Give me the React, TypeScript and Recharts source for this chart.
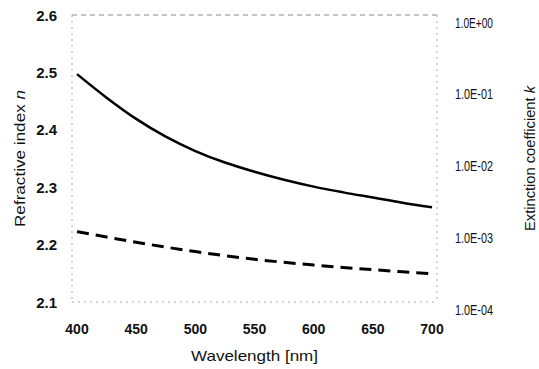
import { LineChart, Line, XAxis, YAxis, ReferenceLine, Label } from "recharts";

// wavelength [nm]
const wavelengths = [400, 425, 450, 475, 500, 525, 550, 575, 600, 625, 650, 675, 700];
// refractive index n (left axis)
const refractiveIndex = [2.497, 2.456, 2.419, 2.388, 2.363, 2.343, 2.327, 2.313, 2.301, 2.291, 2.282, 2.273, 2.265];
// extinction coefficient k (right axis, log)
const extinction = [9.55e-4, 8.04e-4, 6.81e-4, 5.82e-4, 5.04e-4, 4.43e-4, 3.94e-4, 3.57e-4, 3.27e-4, 3.03e-4, 2.82e-4, 2.64e-4, 2.48e-4];

const xTicks = [400, 450, 500, 550, 600, 650, 700];
const nTicks = [2.1, 2.2, 2.3, 2.4, 2.5, 2.6];
const kTicks = [1e-4, 1e-3, 1e-2, 1e-1, 1];

const data = wavelengths.map((wl, i) => ({ wl, n: refractiveIndex[i], k: extinction[i] }));

const FONT = "'Liberation Sans', Arial, sans-serif";
const frame = { stroke: "#a8a8a8", strokeDasharray: "2 4", strokeWidth: 1 };

function expLabel(v: number) {
  const e = Math.round(Math.log10(v));
  const sign = e < 0 ? "-" : "+";
  return `1.0E${sign}${String(Math.abs(e)).padStart(2, "0")}`;
}

const XTick = ({ x, y, payload }: any) => (
  <text x={x} y={y + 32} textAnchor="middle" fontSize={14} fontWeight="bold" fontFamily={FONT} fill="#111">
    {payload.value}
  </text>
);

const NTick = ({ x, y, payload }: any) => (
  <text x={x - 15} y={y + 5.5} textAnchor="end" fontSize={15} fontWeight="bold" fontFamily={FONT} fill="#111">
    {Number(payload.value).toFixed(1)}
  </text>
);

const KTick = ({ x, y, payload }: any) => (
  <text
    x={x + 18}
    y={y + 12.5}
    textAnchor="start"
    fontSize={15}
    fontFamily={FONT}
    fill="#111"
    textLength={38}
    lengthAdjust="spacingAndGlyphs"
  >
    {expLabel(payload.value)}
  </text>
);

const XTitle = ({ viewBox }: any) => (
  <text
    x={viewBox.x + viewBox.width / 2}
    y={viewBox.y + 59}
    textAnchor="middle"
    fontSize={15}
    fontFamily={FONT}
    fill="#111"
    textLength={127}
    lengthAdjust="spacingAndGlyphs"
  >
    Wavelength [nm]
  </text>
);

const NTitle = ({ viewBox }: any) => (
  <text
    transform={`translate(25, ${viewBox.y + viewBox.height / 2}) rotate(-90)`}
    textAnchor="middle"
    fontSize={15.5}
    fontFamily={FONT}
    fill="#111"
    textLength={137}
    lengthAdjust="spacingAndGlyphs"
  >
    Refractive index <tspan fontStyle="italic">n</tspan>
  </text>
);

const KTitle = ({ viewBox }: any) => (
  <text
    transform={`translate(${viewBox.x + 98}, ${viewBox.y + viewBox.height / 2}) rotate(-90)`}
    textAnchor="middle"
    fontSize={15.5}
    fontFamily={FONT}
    fill="#111"
    textLength={145}
    lengthAdjust="spacingAndGlyphs"
  >
    Extinction coefficient <tspan fontStyle="italic">k</tspan>
  </text>
);

export default function App() {
  return (
    <div style={{ position: "absolute", left: 0, top: 0, width: 539, height: 369, background: "#fff" }}>
      <LineChart width={539} height={369} data={data} margin={{ top: 15, right: 0, bottom: 0, left: 0 }}>
        <XAxis
          dataKey="wl"
          type="number"
          domain={[400, 700]}
          ticks={xTicks}
          interval={0}
          padding={{ left: 5, right: 5 }}
          height={67}
          tickSize={0}
          tickMargin={0}
          tickLine={false}
          axisLine={frame}
          tick={<XTick />}
        >
          <Label content={XTitle} />
        </XAxis>
        <YAxis
          yAxisId="n"
          orientation="left"
          width={72}
          type="number"
          domain={[2.1, 2.6]}
          ticks={nTicks}
          interval={0}
          tickSize={0}
          tickMargin={0}
          tickLine={false}
          axisLine={frame}
          tick={<NTick />}
        >
          <Label content={NTitle} />
        </YAxis>
        <YAxis
          yAxisId="k"
          orientation="right"
          width={102}
          type="number"
          scale="log"
          domain={[1e-4, 1]}
          allowDataOverflow
          ticks={kTicks}
          interval={0}
          tickSize={0}
          tickMargin={0}
          tickLine={false}
          axisLine={frame}
          tick={<KTick />}
        >
          <Label content={KTitle} />
        </YAxis>
        <ReferenceLine yAxisId="n" y={2.6} stroke="#8a8a8a" strokeDasharray="5 4" />
        <Line
          yAxisId="n"
          dataKey="n"
          type="monotone"
          stroke="#000"
          strokeWidth={2.5}
          dot={false}
          isAnimationActive={false}
        />
        <Line
          yAxisId="k"
          dataKey="k"
          type="monotone"
          stroke="#000"
          strokeWidth={3}
          strokeDasharray="12 7"
          dot={false}
          isAnimationActive={false}
        />
      </LineChart>
    </div>
  );
}
